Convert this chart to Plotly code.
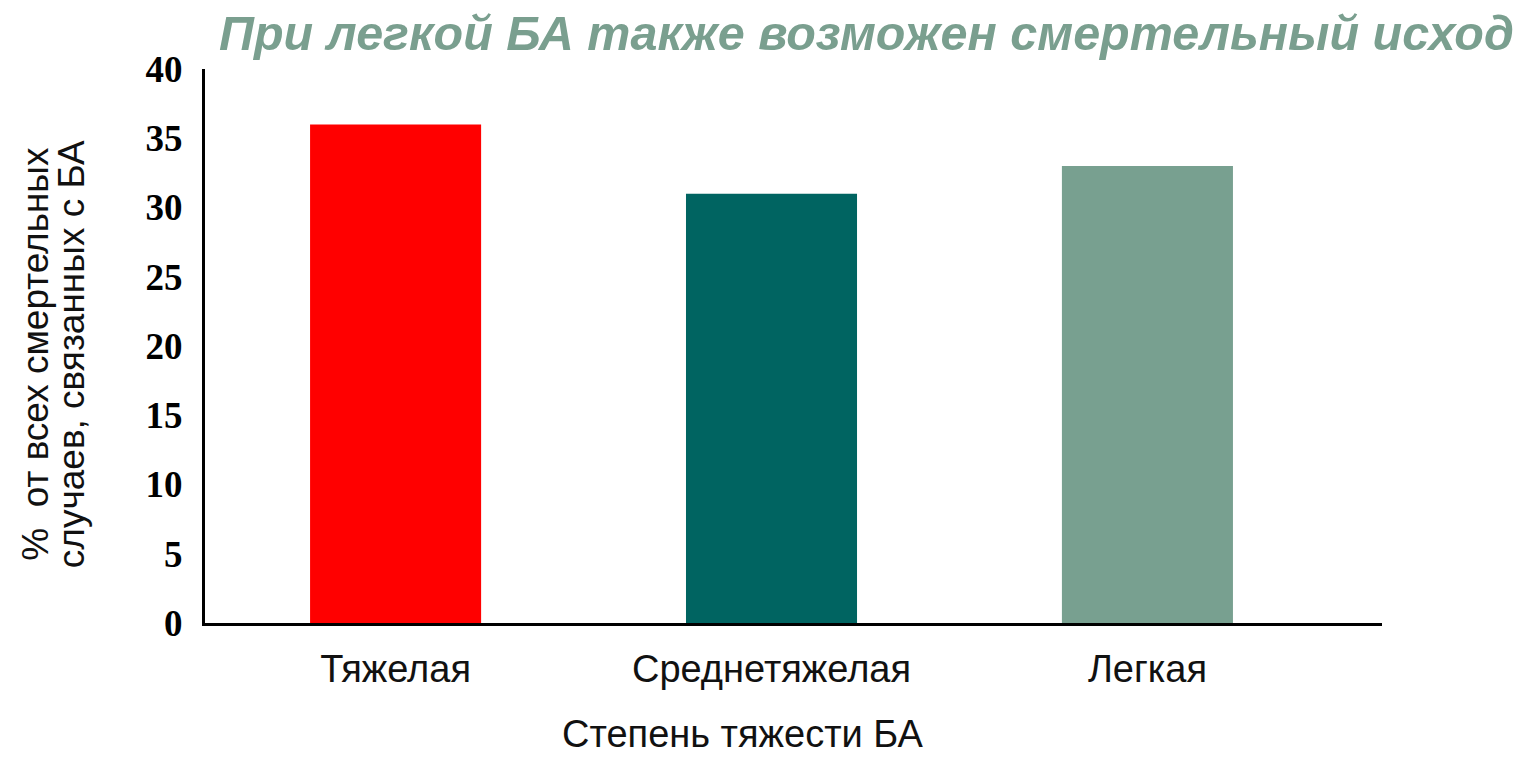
import plotly.graph_objects as go

# Asthma severity categories and share of asthma-related deaths (%)
categories = ["Тяжелая", "Среднетяжелая", "Легкая"]
values = [36, 31, 33]
bar_colors = ["#ff0000", "#006461", "#78a090"]

title_text = "При легкой БА также возможен смертельный исход"
x_title = "Степень тяжести БА"
y_title_lines = ["%  от всех смертельных", "случаев, связанных с БА"]
y_ticks = [0, 5, 10, 15, 20, 25, 30, 35, 40]

fig = go.Figure(
    go.Bar(
        x=categories,
        y=values,
        marker=dict(color=bar_colors, line=dict(width=0)),
        width=0.455,
        hoverinfo="x+y",
    )
)

annotations = [
    dict(
        text="<b><i>" + title_text + "</i></b>",
        xref="paper", yref="paper",
        x=1.1135, y=1.065,
        xanchor="right", yanchor="middle",
        showarrow=False,
        font=dict(family="Liberation Sans, Arial", size=48.5, color="#7a9f8f"),
    ),
    dict(
        text=x_title,
        xref="paper", yref="paper",
        x=0.457, y=-0.2,
        xanchor="center", yanchor="middle",
        showarrow=False,
        font=dict(family="Liberation Sans, Arial", size=38, color="#111111"),
    ),
]

# Two-line rotated y-axis title, one annotation per line for tight spacing
for x_pos, line in zip([-0.144, -0.114], y_title_lines):
    annotations.append(
        dict(
            text=line,
            xref="paper", yref="paper",
            x=x_pos, y=0.485,
            xanchor="center", yanchor="middle",
            textangle=-90,
            showarrow=False,
            font=dict(family="Liberation Sans, Arial", size=37, color="#111111"),
        )
    )

fig.update_layout(
    width=1519,
    height=759,
    margin=dict(l=205, r=137, t=69, b=136),
    paper_bgcolor="white",
    plot_bgcolor="white",
    showlegend=False,
    annotations=annotations,
)

fig.update_xaxes(
    type="category",
    range=[-0.507, 2.624],
    showline=True,
    linecolor="black",
    linewidth=3,
    ticks="",
    showgrid=False,
    zeroline=False,
    tickfont=dict(family="Liberation Sans, Arial", size=38, color="#111111"),
    ticklabelstandoff=10,
)

fig.update_yaxes(
    range=[0, 40],
    tickvals=y_ticks,
    ticktext=["<b>%d</b>" % v for v in y_ticks],
    showline=True,
    linecolor="black",
    linewidth=3,
    ticks="",
    showgrid=False,
    zeroline=False,
    tickfont=dict(family="Liberation Serif, Times New Roman", size=37, color="black"),
    ticklabelstandoff=12,
)

fig.write_html("out.html")
